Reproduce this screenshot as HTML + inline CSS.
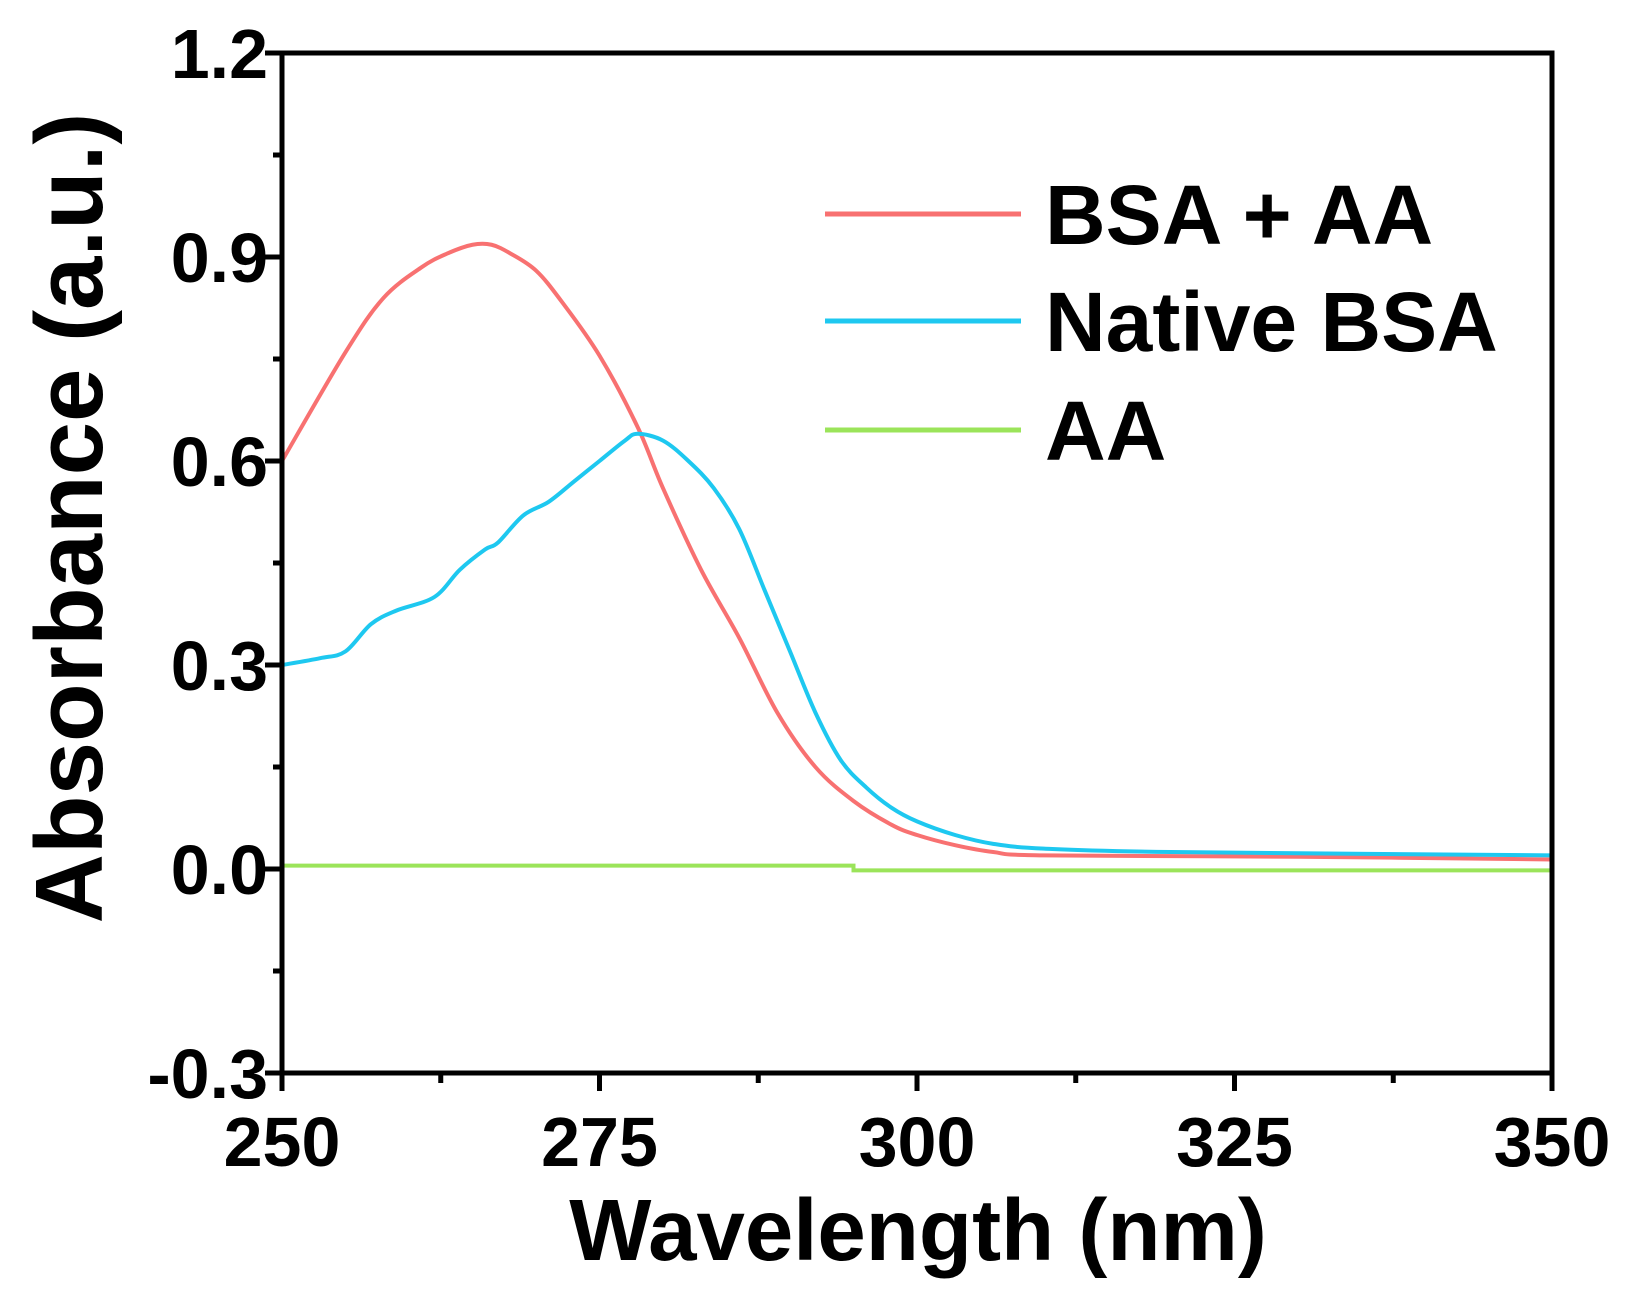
<!DOCTYPE html>
<html><head><meta charset="utf-8"><style>html,body{margin:0;padding:0;background:#fff}svg{display:block}</style></head>
<body>
<svg id="s" width="1628" height="1306" viewBox="0 0 1628 1306" xmlns="http://www.w3.org/2000/svg" font-family="Liberation Sans, Arial, sans-serif" font-weight="bold">
<g id="curves"></g>
<g id="axes" stroke="#000" stroke-width="5" fill="none"></g>
<g id="labels" font-size="70" fill="#000"></g>
<g font-size="84" fill="#000">
<line x1="825" y1="214" x2="1021" y2="214" stroke="#f87171" stroke-width="5"/>
<line x1="825" y1="321" x2="1021" y2="321" stroke="#1ec8f0" stroke-width="5"/>
<line x1="825" y1="430" x2="1021" y2="430" stroke="#9be45a" stroke-width="5"/>
<text x="1045" y="244">BSA + AA</text>
<text x="1045" y="351">Native BSA</text>
<text x="1045" y="460">AA</text>
</g>
<text x="918" y="1260" font-size="87" text-anchor="middle">Wavelength (nm)</text>
<text transform="translate(102,518) rotate(-90)" font-size="96" text-anchor="middle">Absorbance (a.u.)</text>
</svg>
<script>
const X0=282,X1=1552,Y0=1073,Y1=53;
const fx=w=>X0+(w-250)*(X1-X0)/100, fy=a=>Y0-(a+0.3)*(Y0-Y1)/1.5;
const ns="http://www.w3.org/2000/svg";
function el(p,t,a){const e=document.createElementNS(ns,t);for(const k in a)e.setAttribute(k,a[k]);p.appendChild(e);return e;}
function path(pts){
 let d="M"+fx(pts[0][0])+","+fy(pts[0][1]);
 for(let i=0;i<pts.length-1;i++){
  const p0=pts[Math.max(i-1,0)],p1=pts[i],p2=pts[i+1],p3=pts[Math.min(i+2,pts.length-1)];
  const P=q=>[fx(q[0]),fy(q[1])];
  const a=P(p0),b=P(p1),c=P(p2),e=P(p3);
  const c1=[b[0]+(c[0]-a[0])/6,b[1]+(c[1]-a[1])/6],c2=[c[0]-(e[0]-b[0])/6,c[1]-(e[1]-b[1])/6];
  d+=` C${c1[0]},${c1[1]} ${c2[0]},${c2[1]} ${c[0]},${c[1]}`;
 }
 return d;
}
const red=[[250,0.6],[255,0.76],[258,0.84],[261,0.885],[263,0.905],[265,0.918],[266.5,0.918],[268,0.905],[270,0.88],[272,0.835],[275,0.755],[278,0.65],[280,0.56],[283,0.44],[286,0.34],[289,0.23],[292,0.15],[295,0.1],[298,0.065],[300,0.05],[303,0.035],[306,0.025],[310,0.02],[330,0.018],[350,0.014]];
const blue=[[250,0.3],[253,0.31],[255,0.32],[257,0.36],[259,0.38],[262,0.40],[264,0.44],[266,0.47],[267,0.48],[269,0.52],[271,0.54],[273,0.57],[275,0.60],[277,0.63],[278,0.64],[280,0.63],[282,0.60],[284,0.56],[286,0.50],[288,0.41],[290,0.32],[292,0.23],[294,0.16],[296,0.12],[298,0.09],[300,0.07],[303,0.05],[306,0.037],[310,0.03],[320,0.025],[350,0.02]];
const g=document.getElementById("curves");
el(g,"path",{d:path(red),stroke:"#f87171","stroke-width":4,fill:"none"});
el(g,"path",{d:path(blue),stroke:"#1ec8f0","stroke-width":4,fill:"none"});
el(g,"path",{d:`M${fx(250)},${fy(0.005)} H${fx(295)} V${fy(-0.002)} H${fx(350)}`,stroke:"#9be45a","stroke-width":4,fill:"none"});
const ax=document.getElementById("axes");
el(ax,"rect",{x:X0,y:Y1,width:X1-X0,height:Y0-Y1});
for(let i=0;i<=10;i++){const v=-0.3+i*0.15,y=fy(v);el(ax,"line",{x1:X0,x2:X0-(i%2?9:17),y1:y,y2:y});}
for(let i=0;i<=8;i++){const w=250+i*12.5,x=fx(w);el(ax,"line",{x1:x,x2:x,y1:Y0,y2:Y0+(i%2?10:18)});}
const lb=document.getElementById("labels");
["-0.3","0.0","0.3","0.6","0.9","1.2"].forEach((t,i)=>{const e=el(lb,"text",{x:268,y:fy(-0.3+i*0.3)+25,"text-anchor":"end"});e.textContent=t;});
[250,275,300,325,350].forEach(w=>{const e=el(lb,"text",{x:fx(w),y:1166,"text-anchor":"middle"});e.textContent=w;});
</script>
</body></html>
